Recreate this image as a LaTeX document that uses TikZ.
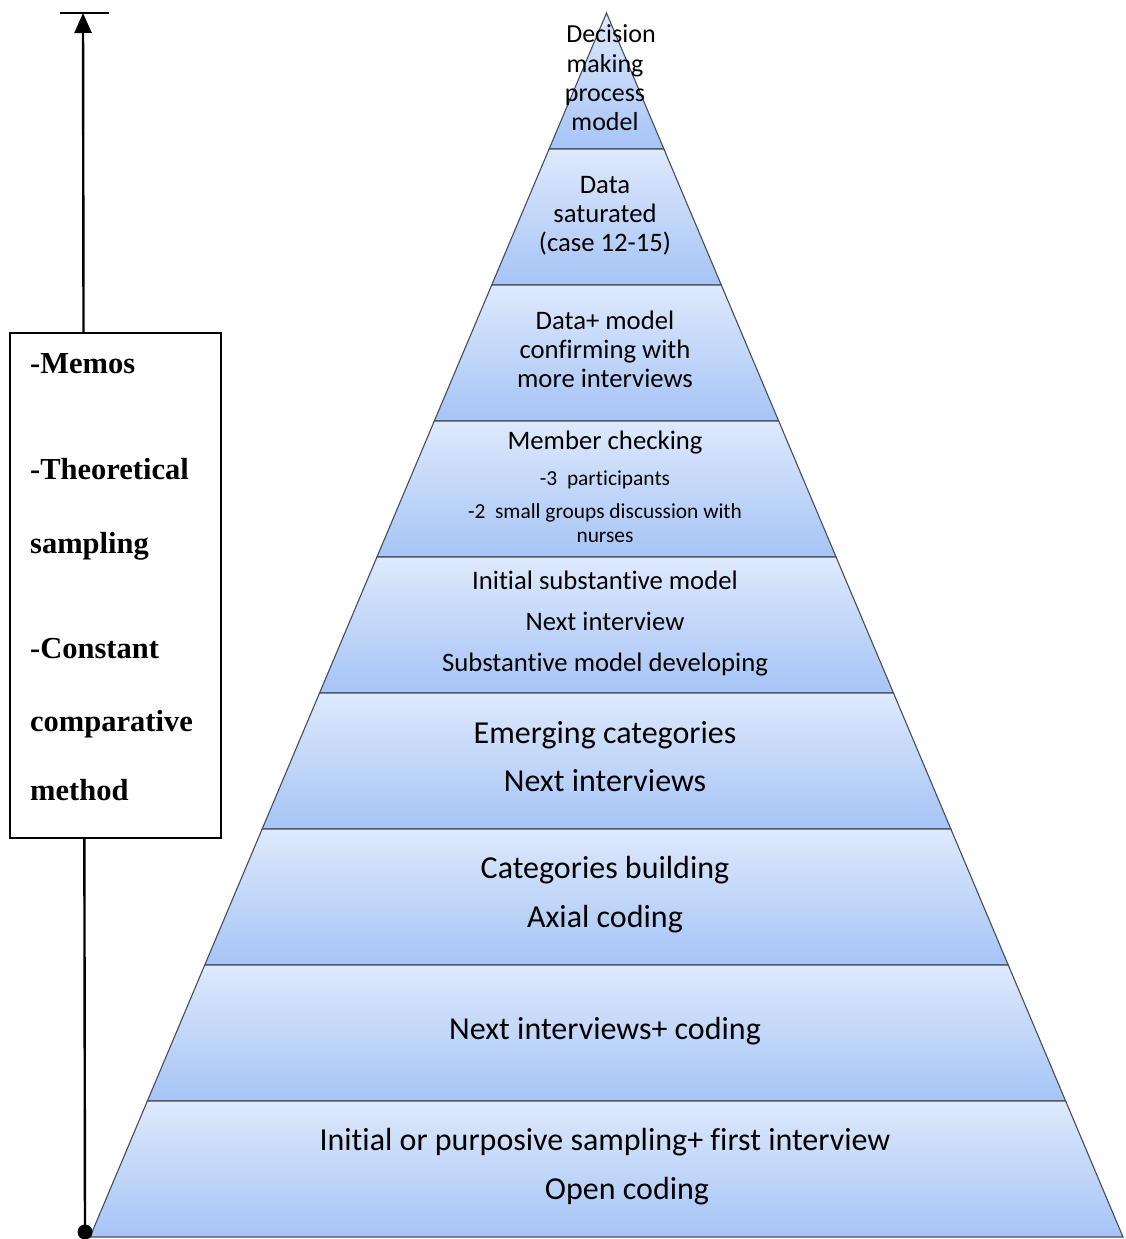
\documentclass[tikz,border=0pt]{standalone}
\usepackage{fontspec}
\setmainfont{Carlito}[Ligatures=NoCommon]
\newfontfamily\memofont{Liberation Serif}
\usetikzlibrary{arrows.meta}
\definecolor{bandtop}{RGB}{222,233,252}
\definecolor{bandbot}{RGB}{166,196,246}
\definecolor{bandline}{RGB}{70,78,92}
\tikzset{
  band/.style={top color=bandtop, bottom color=bandbot, draw=bandline, line width=1.1pt, line join=miter},
  lbl/.style={anchor=base, inner sep=0pt, text=black},
  fA/.style={font=\fontsize{26}{29}\selectfont},
  fB/.style={font=\fontsize{26.7}{29}\selectfont},
  fC/.style={font=\fontsize{21.4}{24}\selectfont},
  fD/.style={font=\fontsize{32}{36}\selectfont},
  memo/.style={anchor=base west, inner sep=0pt, font=\memofont\bfseries\fontsize{30.5}{36}\selectfont},
  axis/.style={line width=2.4pt, black}
}
\begin{document}
\begin{tikzpicture}[x=1pt,y=-1pt]
\useasboundingbox (0,0) rectangle (1125,1239);
% pyramid bands: apex at (606.5,13), base 1237, nine equal layers
\pgfmathsetmacro{\cx}{606.5}
\pgfmathsetmacro{\sl}{0.422}
\foreach \i in {0,...,8}{
  \pgfmathsetmacro{\ya}{13+136*\i}
  \pgfmathsetmacro{\yb}{13+136*(\i+1)}
  \pgfmathsetmacro{\ha}{\sl*(\ya-13)}
  \pgfmathsetmacro{\hb}{\sl*(\yb-13)}
  \path[band] (\cx-\ha,\ya) -- (\cx+\ha,\ya) -- (\cx+\hb,\yb) -- (\cx-\hb,\yb) -- cycle;
}
% layer texts
\node[lbl,fA] (l1a) at (611,43) {Decision};
\node[lbl,fA] (l1b) at (605,72) {making};
\node[lbl,fA] (l1c) at (605,101) {process};
\node[lbl,fA] (l1d) at (605,130) {model};
\node[lbl,fB] (l2a) at (605,193) {Data};
\node[lbl,fB] (l2b) at (605,222) {saturated};
\node[lbl,fB] (l2c) at (605,251) {(case 12-15)};
\node[lbl,fB] (l3a) at (605,329) {Data+ model};
\node[lbl,fB] (l3b) at (605,358) {confirming with};
\node[lbl,fB] (l3c) at (605,387) {more interviews};
\node[lbl,fB] (l4a) at (605,449) {Member checking};
\node[lbl,fC] (l4b) at (605,485) {-3\ \ participants};
\node[lbl,fC] (l4c) at (605,518) {-2\ \ small groups discussion with};
\node[lbl,fC] (l4d) at (605,542) {nurses};
\node[lbl,fB] (l5a) at (605,589) {Initial substantive model};
\node[lbl,fB] (l5b) at (605,630) {Next interview};
\node[lbl,fB] (l5c) at (605,671) {Substantive model developing};
\node[lbl,fD] (l6a) at (605,743) {Emerging categories};
\node[lbl,fD] (l6b) at (605,791) {Next interviews};
\node[lbl,fD] (l7a) at (605,878) {Categories building};
\node[lbl,fD] (l7b) at (605,927) {Axial coding};
\node[lbl,fD] (l8a) at (605,1039) {Next interviews+ coding};
\node[lbl,fD] (l9a) at (605,1150) {Initial or purposive sampling+ first interview};
\node[lbl,fD] (l9b) at (627,1199) {Open coding};
% time axis with arrow
\coordinate (axbase) at (85,1232);
\coordinate (axtop) at (83,13);
\coordinate (barL) at (60,13);
\coordinate (barR) at (109,13);
\draw[axis, -{Triangle[length=20pt,width=17pt]}] (axbase) -- (axtop);
\draw[line width=1.8pt] (barL) -- (barR);
\fill (axbase) circle (7.5pt);
% strategies box
\node[draw=black, line width=1.6pt, fill=white, minimum width=211pt, minimum height=505pt, inner sep=0pt] (box) at (115.5,585.5) {};
\node[memo] (m1) at (30,373) {-Memos};
\node[memo] (m2) at (30,479) {-Theoretical};
\node[memo] (m3) at (30,553) {sampling};
\node[memo] (m4) at (30,658) {-Constant};
\node[memo] (m5) at (30,731) {comparative};
\node[memo] (m6) at (30,800) {method};
\end{tikzpicture}
\end{document}
